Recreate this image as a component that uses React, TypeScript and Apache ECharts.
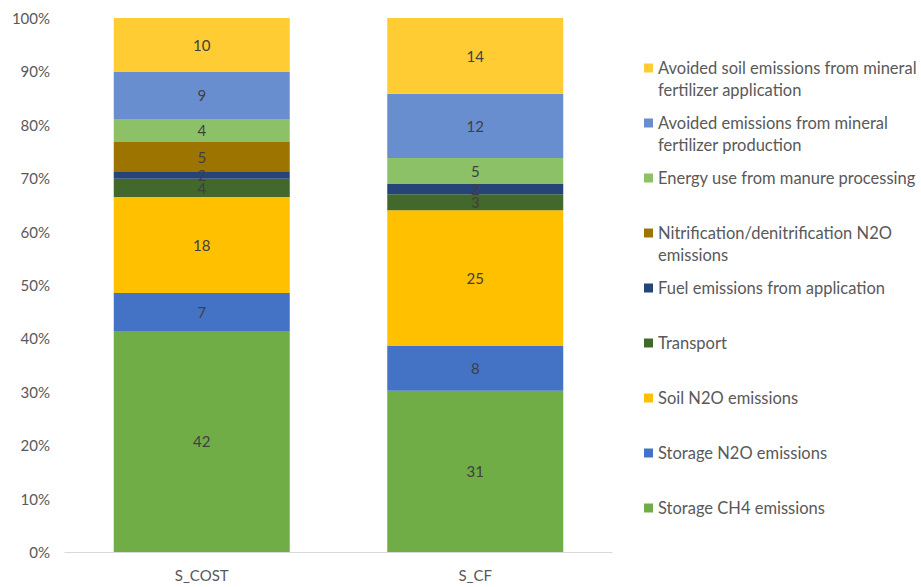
import React, { useEffect, useRef } from "react";
import * as echarts from "echarts";

const categories = ["S_COST", "S_CF"];

// series, bottom to top of the stack
const seriesNames = [
  "Storage CH4 emissions",
  "Storage N2O emissions",
  "Soil N2O emissions",
  "Transport",
  "Fuel emissions from application",
  "Nitrification/denitrification N2O emissions",
  "Energy use from manure processing",
  "Avoided emissions from mineral fertilizer production",
  "Avoided soil emissions from mineral fertilizer application",
];

// share of each column (percent of total)
const storageCH4Share = [41.4, 30.2];
const storageN2OShare = [7.1, 8.4];
const soilN2OShare = [18.0, 25.4];
const transportShare = [3.4, 3.0];
const fuelShare = [1.4, 1.9];
const nitrificationShare = [5.5, 0];
const energyShare = [4.3, 4.9];
const avoidedProductionShare = [8.8, 12.0];
const avoidedSoilShare = [10.1, 14.2];

// data labels printed on the bars
const storageCH4Label = [42, 31];
const storageN2OLabel = [7, 8];
const soilN2OLabel = [18, 25];
const transportLabel = [4, 3];
const fuelLabel = [2, 2];
const nitrificationLabel = [5, 0];
const energyLabel = [4, 5];
const avoidedProductionLabel = [9, 12];
const avoidedSoilLabel = [10, 14];

const yTicks = [0, 10, 20, 30, 40, 50, 60, 70, 80, 90, 100];

const shares = [
  storageCH4Share,
  storageN2OShare,
  soilN2OShare,
  transportShare,
  fuelShare,
  nitrificationShare,
  energyShare,
  avoidedProductionShare,
  avoidedSoilShare,
];
const labels = [
  storageCH4Label,
  storageN2OLabel,
  soilN2OLabel,
  transportLabel,
  fuelLabel,
  nitrificationLabel,
  energyLabel,
  avoidedProductionLabel,
  avoidedSoilLabel,
];

const colors = [
  "#70AD47",
  "#4472C4",
  "#FFC000",
  "#43682B",
  "#264478",
  "#9E7400",
  "#8CC168",
  "#698ED0",
  "#FFCD33",
];

const legendWrapped: Record<string, string> = {
  "Avoided soil emissions from mineral fertilizer application":
    "Avoided soil emissions from mineral\nfertilizer application",
  "Avoided emissions from mineral fertilizer production":
    "Avoided emissions from mineral\nfertilizer production",
  "Nitrification/denitrification N2O emissions":
    "Nitrification/denitrification N2O\nemissions",
};

const FONT = "Lato";

export default function App() {
  const ref = useRef<HTMLDivElement>(null);

  useEffect(() => {
    document.body.style.margin = "0";
    if (!ref.current) return;
    const chart = echarts.init(ref.current, undefined, { renderer: "svg" });

    const lineH = 22;
    const legendOrder = seriesNames.slice().reverse();
    const legends = legendOrder.map((name, i) => {
      const wrapped = legendWrapped[name];
      const text = wrapped ? "\n" + wrapped : name;
      const lines = text.split("\n").length;
      const center = 68 + i * 55;
      return {
        show: true,
        data: [name],
        left: 644,
        top: center - (lines * lineH) / 2,
        padding: 0,
        itemWidth: 9,
        itemHeight: 9,
        icon: "rect",
        selectedMode: false,
        formatter: () => text,
        textStyle: {
          fontFamily: FONT,
          fontSize: 16.5,
          color: "#595959",
          lineHeight: lineH,
        },
      };
    });

    chart.setOption({
      animation: false,
      backgroundColor: "#ffffff",
      color: colors,
      textStyle: { fontFamily: FONT },
      legend: legends,
      grid: { left: 65, right: 309, top: 18, bottom: 35, containLabel: false },
      xAxis: {
        type: "category",
        data: categories,
        axisLine: { show: true, lineStyle: { color: "#D9D9D9", width: 1 } },
        axisTick: { show: false },
        axisLabel: {
          color: "#595959",
          fontSize: 15,
          fontFamily: FONT,
          margin: 15,
        },
      },
      yAxis: {
        type: "value",
        min: yTicks[0],
        max: yTicks[yTicks.length - 1],
        interval: yTicks[1] - yTicks[0],
        axisLine: { show: false },
        axisTick: { show: false },
        splitLine: { show: false },
        axisLabel: {
          formatter: "{value}%",
          color: "#595959",
          fontSize: 15,
          fontFamily: FONT,
          margin: 15,
        },
      },
      series: seriesNames.map((name, si) => ({
        name,
        type: "bar",
        stack: "total",
        barWidth: 176,
        data: shares[si],
        itemStyle: { color: colors[si] },
        label: {
          show: true,
          position: "inside",
          color: "#404040",
          fontSize: 15,
          fontFamily: FONT,
          formatter: (p: any) => {
            const v = labels[si][p.dataIndex];
            return v ? String(v) : "";
          },
        },
      })),
    });

    return () => chart.dispose();
  }, []);

  return <div ref={ref} style={{ width: 921, height: 587 }} />;
}
